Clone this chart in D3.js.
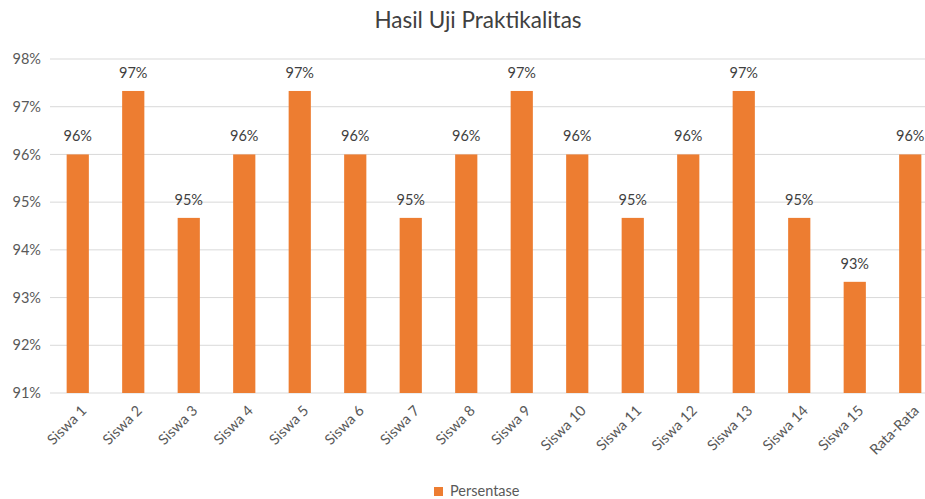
<!DOCTYPE html>
<html>
<head>
<meta charset="utf-8">
<script src="https://cdn.jsdelivr.net/npm/d3@7"></script>
<style>
  body { margin: 0; background: #fff; }
  svg { font-family: Lato, "Open Sans", sans-serif; }
</style>
</head>
<body>
<div id="chart"></div>
<script>
var categories = ["Siswa 1","Siswa 2","Siswa 3","Siswa 4","Siswa 5","Siswa 6","Siswa 7","Siswa 8",
  "Siswa 9","Siswa 10","Siswa 11","Siswa 12","Siswa 13","Siswa 14","Siswa 15","Rata-Rata"];
var persentase = [96, 97.33, 94.67, 96, 97.33, 96, 94.67, 96, 97.33, 96, 94.67, 96, 97.33, 94.67, 93.33, 96];
var yTicks = [91, 92, 93, 94, 95, 96, 97, 98];

var width = 925, height = 499;
var plotLeft = 50, plotRight = 938, plotTop = 59, plotBottom = 393;
var barColor = "#ED7D31";

var svg = d3.select("#chart").append("svg")
  .attr("width", width)
  .attr("height", height);

var x = d3.scaleBand().domain(categories).range([plotLeft, plotRight]).paddingInner(0.6).paddingOuter(0.3);
var y = d3.scaleLinear().domain([91, 98]).range([plotBottom, plotTop]);

// grid
svg.append("g").selectAll("line").data(yTicks).enter().append("line")
  .attr("x1", plotLeft).attr("x2", plotRight)
  .attr("y1", function(d){ return y(d); }).attr("y2", function(d){ return y(d); })
  .attr("stroke", "#d9d9d9").attr("stroke-width", 1);

// y labels
svg.append("g").selectAll("text").data(yTicks).enter().append("text")
  .attr("x", 41).attr("y", function(d){ return y(d); })
  .attr("dy", "0.35em").attr("text-anchor", "end")
  .attr("font-size", 14.5).attr("fill", "#595959")
  .text(function(d){ return d + "%"; });

// bars
svg.append("g").selectAll("rect").data(persentase).enter().append("rect")
  .attr("x", function(d, i){ return x(categories[i]); })
  .attr("width", x.bandwidth())
  .attr("y", function(d){ return y(d); })
  .attr("height", function(d){ return y(91) - y(d); })
  .attr("fill", barColor);

// value labels
svg.append("g").selectAll("text").data(persentase).enter().append("text")
  .attr("x", function(d, i){ return x(categories[i]) + x.bandwidth() / 2; })
  .attr("y", function(d){ return y(d) - 13; })
  .attr("text-anchor", "middle")
  .attr("font-size", 14.5).attr("fill", "#404040")
  .text(function(d){ return Math.round(d) + "%"; });

// x labels
svg.append("g").selectAll("text").data(categories).enter().append("text")
  .attr("transform", function(d){
    var cx = x(d) + x.bandwidth() / 2 + 6;
    return "translate(" + cx + "," + (plotBottom + 15) + ") rotate(-45)";
  })
  .attr("text-anchor", "end").attr("dy", "0.35em")
  .attr("font-size", 14.5).attr("fill", "#595959")
  .text(function(d){ return d; });

// title
svg.append("text")
  .attr("x", 478).attr("y", 28)
  .attr("text-anchor", "middle")
  .attr("font-size", 22.5).attr("fill", "#404040")
  .text("Hasil Uji Praktikalitas");

// legend
svg.append("rect").attr("x", 434).attr("y", 487).attr("width", 9).attr("height", 9).attr("fill", barColor);
svg.append("text").attr("x", 450).attr("y", 491).attr("dy", "0.35em")
  .attr("font-size", 14.5).attr("fill", "#595959").text("Persentase");
</script>
</body>
</html>
